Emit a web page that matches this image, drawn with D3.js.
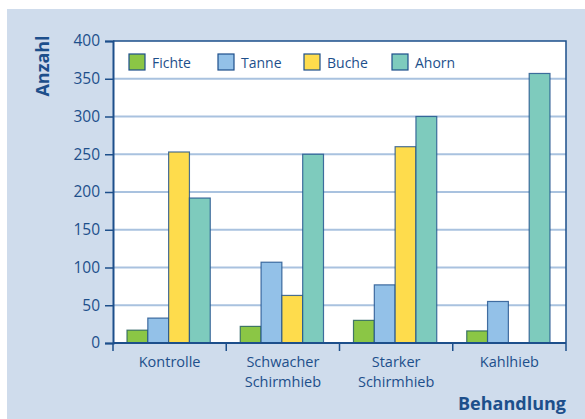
<!DOCTYPE html>
<html>
<head>
<meta charset="utf-8">
<script src="https://cdn.jsdelivr.net/npm/d3@7"></script>
<style>
  body { margin: 0; background: #fff; }
  text { font-family: "Open Sans", "Noto Sans", sans-serif; fill: #1d4f8b; }
</style>
</head>
<body>
<script>
// data
const categories = [["Kontrolle"], ["Schwacher", "Schirmhieb"], ["Starker", "Schirmhieb"], ["Kahlhieb"]];
const species = ["Fichte", "Tanne", "Buche", "Ahorn"];
const fichte = [17, 22, 30, 16];
const tanne = [33, 107, 77, 55];
const buche = [253, 63, 260, 0];
const ahorn = [192, 250, 300, 357];
const yTicks = [0, 50, 100, 150, 200, 250, 300, 350, 400];

const series = [fichte, tanne, buche, ahorn];
const colors = ["#8bc645", "#93c1e8", "#fedc4c", "#7ecbbd"];
const dark = "#1d4f8b";

let margin = {top: 41, left: 113, bottom: 76, right: 19};
let width = 585 - margin.left - margin.right;
let height = 419 - margin.top - margin.bottom;

const root = d3.select("body").append("svg")
  .attr("width", 585).attr("height", 419);

root.append("rect").attr("x", 7).attr("y", 9)
  .attr("width", 578).attr("height", 410).attr("fill", "#cfdcec");

const svg = root.append("g").attr("transform", `translate(${margin.left},${margin.top})`);

let x = d3.scaleBand().range([0, width]).domain(d3.range(categories.length));
let xs = d3.scaleBand().range([14, x.bandwidth() - 16]).domain(d3.range(species.length));
let y = d3.scaleLinear().range([height, 0]).domain([0, 400]);

svg.append("rect").attr("width", width).attr("height", height).attr("fill", "#fff");

// gridlines
svg.append("g").selectAll("line").data(yTicks.slice(1, -1)).enter().append("line")
  .attr("x1", 0).attr("x2", width)
  .attr("y1", d => y(d)).attr("y2", d => y(d))
  .attr("stroke", "#a9c2df").attr("stroke-width", 2);

// bars
series.forEach((vals, si) => {
  svg.append("g").selectAll("rect").data(vals).enter().append("rect")
    .filter(d => d > 0)
    .attr("x", (d, i) => x(i) + xs(si))
    .attr("y", d => y(d))
    .attr("width", xs.bandwidth())
    .attr("height", d => height - y(d))
    .attr("fill", colors[si])
    .attr("stroke", si === 0 ? "#1f5a5a" : dark)
    .attr("stroke-opacity", 0.8)
    .attr("stroke-width", 1.2);
});

// border top & right
svg.append("path").attr("d", `M0,0H${width}V${height}`)
  .attr("fill", "none").attr("stroke", dark).attr("stroke-width", 1.5);

// y axis
const yAxis = svg.append("g")
  .call(d3.axisLeft(y).tickValues(yTicks).tickSize(8).tickPadding(5));
yAxis.select(".domain").attr("stroke", dark).attr("stroke-width", 2);
yAxis.selectAll(".tick line").attr("stroke", dark).attr("stroke-width", 1.5);
yAxis.selectAll(".tick text").attr("font-size", 15.5).attr("fill", dark)
  .attr("font-family", "Open Sans");

// x axis with boundary ticks
const xg = svg.append("g").attr("transform", `translate(0,${height})`);
xg.append("line").attr("x1", 0).attr("x2", width).attr("stroke", dark).attr("stroke-width", 2);
xg.selectAll(".bt").data(d3.range(categories.length + 1)).enter().append("line")
  .attr("x1", i => i * x.step()).attr("x2", i => i * x.step())
  .attr("y1", 0).attr("y2", 8).attr("stroke", dark).attr("stroke-width", 1.5);
const labels = xg.selectAll(".lbl").data(categories).enter().append("text")
  .attr("text-anchor", "middle").attr("font-size", 14.5)
  .attr("transform", (d, i) => `translate(${x(i) + x.bandwidth() / 2},24)`);
labels.selectAll("tspan").data(d => d).enter().append("tspan")
  .attr("x", 0).attr("dy", (d, j) => j === 0 ? 0 : 20).text(d => d);

// legend
const leg = svg.append("g").attr("transform", "translate(16,13)");
const legX = [0, 89, 175, 263];
species.forEach((s, i) => {
  const g = leg.append("g").attr("transform", `translate(${legX[i]},0)`);
  g.append("rect").attr("width", 16).attr("height", 16)
    .attr("fill", colors[i]).attr("stroke", dark).attr("stroke-width", 1.2);
  g.append("text").attr("x", 23).attr("y", 13.5).attr("font-size", 14).text(s);
});

// axis titles
root.append("text").attr("transform", "translate(49,66) rotate(-90)")
  .attr("text-anchor", "middle").attr("font-size", 18).attr("font-weight", "bold")
  .text("Anzahl");
root.append("text").attr("x", 566).attr("y", 410)
  .attr("text-anchor", "end").attr("font-size", 18).attr("font-weight", "bold")
  .text("Behandlung");
</script>
</body>
</html>
